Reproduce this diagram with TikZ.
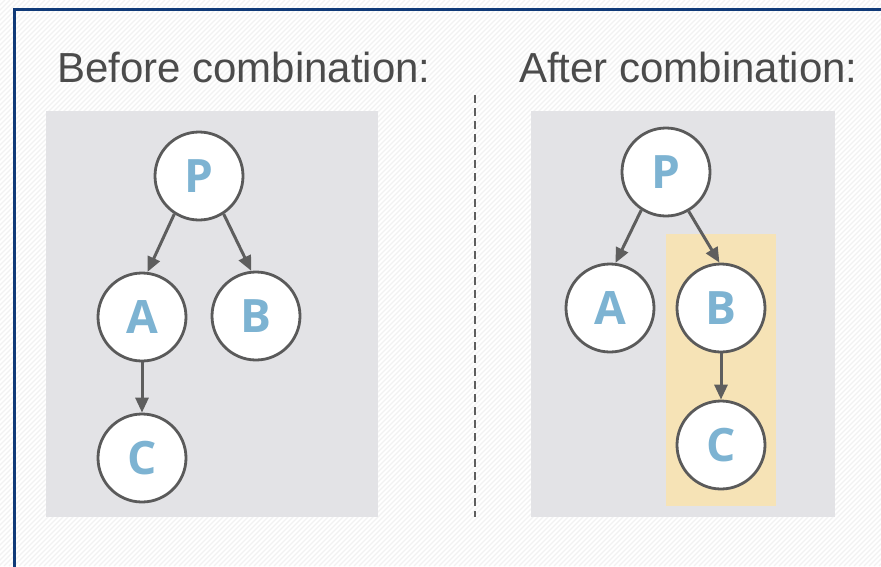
\documentclass[tikz,border=0pt]{standalone}
\usepackage{fontspec}
\setmainfont{Liberation Sans}
\newfontfamily\letterfont{Open Sans}[UprightFont=* Bold]
\usetikzlibrary{arrows.meta}

\definecolor{framenavy}{RGB}{16,58,120}
\definecolor{panelgray}{RGB}{227,227,230}
\definecolor{hiyellow}{RGB}{246,227,182}
\definecolor{ringgray}{RGB}{90,90,90}
\definecolor{arrowgray}{RGB}{94,94,94}
\definecolor{lettblue}{RGB}{125,179,210}
\definecolor{titlegray}{RGB}{75,75,75}
\definecolor{hatchgray}{RGB}{242,242,242}

\tikzset{
  treenode/.style={circle, draw=ringgray, line width=2.8pt, fill=white,
    minimum size=88pt, inner sep=0pt,
    font=\letterfont\fontsize{46}{46}\selectfont, text=lettblue},
  edge/.style={draw=arrowgray, line width=3pt,
    -{Triangle[length=15pt,width=13pt]}},
  title/.style={anchor=base west, inner sep=0pt, text=titlegray,
    font=\fontsize{42}{42}\selectfont},
  panel/.style={fill=panelgray},
}

\begin{document}
\begin{tikzpicture}[x=1pt,y=-1pt]
  \useasboundingbox (0,0) rectangle (881,566);

  % faint diagonal hatching over the whole sheet
  \begin{scope}
    \clip (0,0) rectangle (881,566);
    \fill[white] (0,0) rectangle (881,566);
    \foreach \k in {0,5,...,1450}
      \draw[hatchgray, line width=1.2pt] (\k-566,566) -- (\k,0);
  \end{scope}

  % outer frame
  \draw[framenavy, line width=3pt] (14,580) -- (14,9) -- (895,9);

  % headings
  \node[title] (hbefore) at (57,82) {Before combination:};
  \node[title] (hafter) at (519,82) {After combination:};

  % separator
  \coordinate (septop) at (475,95);
  \coordinate (sepbot) at (475,517);
  \draw[arrowgray, line width=1.5pt, dash pattern=on 8pt off 5pt] (septop) -- (sepbot);

  % grey panels
  \fill[panel] (46,111) rectangle (378,517);
  \fill[panel] (531,111) rectangle (835,517);

  % highlighted B-C block
  \fill[hiyellow] (666,234) rectangle (776,506);

  % tree before combination
  \node[treenode] (P1) at (199,176) {P};
  \node[treenode] (A1) at (142,317) {A};
  \node[treenode] (B1) at (256,316) {B};
  \node[treenode] (C1) at (142,458) {C};
  \draw[edge] (P1.-123) -- (A1.83);
  \draw[edge] (P1.-57) -- (B1.96);
  \draw[edge] (A1.south) -- (C1.north);

  % tree after combination
  \node[treenode] (P2) at (666,172) {P};
  \node[treenode] (A2) at (610,308) {A};
  \node[treenode] (B2) at (721,308) {B};
  \node[treenode] (C2) at (721,445) {C};
  \draw[edge] (P2.-123) -- (A2.83);
  \draw[edge] (P2.-60) -- (B2.92);
  \draw[edge] (B2.south) -- (C2.north);
\end{tikzpicture}
\end{document}
